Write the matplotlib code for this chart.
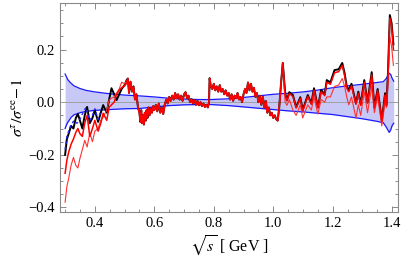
import numpy as np
import matplotlib
matplotlib.use("Agg")
import matplotlib.pyplot as plt
from matplotlib.ticker import MultipleLocator, FixedLocator

plt.rcParams['font.family'] = ['Liberation Serif', 'DejaVu Serif']
plt.rcParams['mathtext.fontset'] = 'stix'

# ---------------- data ----------------
# error band
band_x = [0.300, 0.305, 0.310, 0.320, 0.330, 0.350, 0.370, 0.400, 0.450, 0.500, 0.550,
          0.600, 0.650, 0.700, 0.750, 0.790, 0.850, 0.900, 0.950, 1.000, 1.050, 1.100,
          1.150, 1.200, 1.250, 1.300, 1.350, 1.370, 1.380, 1.390, 1.395, 1.400, 1.405]
band_hi = [0.107, 0.095, 0.084, 0.072, 0.062, 0.052, 0.045, 0.039, 0.032, 0.027, 0.024,
           0.020, 0.015, 0.012, 0.010, 0.010, 0.013, 0.018, 0.024, 0.030, 0.034, 0.039,
           0.046, 0.055, 0.062, 0.068, 0.075, 0.078, 0.090, 0.110, 0.105, 0.090, 0.080]
band_lo = [-0.100, -0.085, -0.075, -0.058, -0.048, -0.040, -0.035, -0.031, -0.028, -0.025, -0.024,
           -0.018, -0.013, -0.010, -0.009, -0.009, -0.013, -0.018, -0.023, -0.028, -0.033, -0.037,
           -0.042, -0.047, -0.055, -0.063, -0.073, -0.078, -0.095, -0.115, -0.105, -0.088, -0.080]

# left part (0.30 - 0.51)
x_left = [0.300, 0.306, 0.312, 0.320, 0.328, 0.336, 0.343, 0.350, 0.358, 0.366, 0.374,
          0.383, 0.392, 0.400, 0.411, 0.420, 0.428, 0.440, 0.448, 0.456, 0.465, 0.473,
          0.482, 0.490, 0.500, 0.507]
black_left = [-0.200, -0.140, -0.120, -0.090, -0.100, -0.060, -0.045, -0.070, -0.100, -0.050, -0.018,
              -0.080, -0.060, -0.030, -0.075, -0.040, -0.011, -0.040, 0.010, 0.053, 0.030, 0.008,
              0.030, 0.050, 0.065, 0.084]
red_left = [-0.270, -0.220, -0.190, -0.160, -0.140, -0.115, -0.100, -0.120, -0.130, -0.080, -0.050,
            -0.130, -0.100, -0.069, -0.110, -0.080, -0.042, -0.069, -0.019, -0.010, 0.000, 0.030,
            0.046, 0.055, 0.062, 0.072]
light_left = [-0.380, -0.320, -0.290, -0.240, -0.210, -0.240, -0.250, -0.213, -0.180, -0.145, -0.170,
              -0.118, -0.150, -0.110, -0.100, -0.069, -0.057, -0.030, 0.008, 0.015, 0.020, 0.034,
              0.050, 0.076, 0.070, 0.080]

# middle part (0.51 - 1.035), curves coincide
x_mid = [0.511, 0.515, 0.520, 0.525, 0.530, 0.535, 0.540, 0.545, 0.550, 0.553, 0.556, 0.559,
         0.562, 0.565, 0.568, 0.571, 0.574, 0.577, 0.580, 0.584, 0.588, 0.592, 0.596, 0.600,
         0.605, 0.610, 0.615, 0.620, 0.625, 0.630, 0.635, 0.640, 0.645, 0.650, 0.655, 0.660,
         0.665, 0.670, 0.675, 0.680, 0.685, 0.690, 0.695, 0.700, 0.705, 0.710, 0.715, 0.720,
         0.725, 0.730, 0.735, 0.740, 0.745, 0.750, 0.755, 0.760, 0.765, 0.770, 0.775, 0.780,
         0.784, 0.786, 0.790, 0.795, 0.800, 0.805, 0.810, 0.815, 0.820, 0.825, 0.830, 0.835,
         0.840, 0.845, 0.850, 0.855, 0.860, 0.865, 0.870, 0.875, 0.880, 0.885, 0.890, 0.895,
         0.900, 0.905, 0.910, 0.915, 0.920, 0.925, 0.930, 0.935, 0.940, 0.945, 0.950, 0.955,
         0.960, 0.965, 0.970, 0.975, 0.980, 0.985, 0.990, 0.995, 1.000, 1.005, 1.010, 1.015,
         1.020, 1.026, 1.032]
y_mid = [0.090, 0.035, 0.078, 0.040, 0.060, 0.010, 0.030, -0.020, -0.040, -0.075, -0.030, -0.080,
         -0.050, -0.085, -0.040, -0.070, -0.030, -0.060, -0.020, -0.050, -0.025, -0.040, -0.015, -0.030,
         -0.010, -0.035, -0.005, -0.040, -0.020, -0.045, -0.010, 0.010, -0.005, 0.020, 0.005, 0.025,
         0.010, 0.035, 0.015, 0.030, 0.010, 0.025, 0.005, 0.030, 0.038, 0.015, 0.025, 0.000,
         0.012, -0.005, 0.008, -0.010, 0.005, -0.012, 0.000, -0.015, -0.005, -0.018, -0.010, -0.020,
         0.000, 0.091, 0.060, 0.050, 0.070, 0.045, 0.060, 0.040, 0.065, 0.040, 0.050, 0.030,
         0.045, 0.025, 0.035, 0.010, 0.030, 0.005, 0.025, 0.015, 0.035, 0.010, 0.020, 0.000,
         0.030, 0.050, 0.035, 0.075, 0.045, 0.070, 0.040, 0.055, 0.020, 0.035, 0.000, 0.025,
         -0.010, 0.020, -0.020, 0.005, -0.040, -0.020, -0.050, -0.040, -0.060, -0.050, -0.065, -0.070,
         -0.020, 0.070, 0.149]
light_mid_spike = 0.140

# right part (1.04 - 1.405)
x_right = [1.040, 1.046, 1.054, 1.066, 1.077, 1.091, 1.099, 1.116, 1.128, 1.137, 1.150, 1.161,
           1.173, 1.180, 1.192, 1.206, 1.220, 1.232, 1.240, 1.247, 1.254, 1.263, 1.278, 1.286,
           1.294, 1.306, 1.317, 1.331, 1.340, 1.351, 1.365, 1.376, 1.381, 1.386, 1.392, 1.398, 1.404]
black_right = [0.034, 0.008, 0.038, 0.027, -0.019, 0.019, -0.030, 0.027, -0.004, 0.053, -0.019, 0.046,
               0.030, 0.084, 0.075, 0.122, 0.125, 0.149, 0.110, 0.060, 0.046, 0.070, -0.004, 0.040,
               -0.008, 0.084, 0.000, 0.114, -0.019, 0.050, -0.069, 0.034, -0.010, 0.120, 0.331, 0.300, 0.220]
red_right = [0.030, 0.005, 0.033, 0.022, -0.022, 0.015, -0.033, 0.022, -0.008, 0.046, -0.022, 0.040,
             0.025, 0.076, 0.068, 0.112, 0.116, 0.140, 0.100, 0.054, 0.040, 0.062, -0.008, 0.034,
             -0.012, 0.076, -0.004, 0.104, -0.022, 0.044, -0.072, 0.028, -0.014, 0.110, 0.320, 0.290, 0.200]
light_right = [0.000, -0.012, 0.010, -0.030, -0.050, -0.010, -0.060, -0.010, -0.030, 0.020, -0.045, 0.010,
               0.000, 0.020, 0.020, 0.060, 0.065, 0.090, 0.060, 0.020, -0.010, 0.020, -0.060, -0.010,
               -0.050, 0.040, -0.040, 0.060, -0.040, 0.020, -0.090, 0.000, -0.020, 0.080, 0.250, 0.210, 0.140]

# blue dashed curve at the start
blue_x = [0.300, 0.306, 0.312, 0.320, 0.330, 0.340, 0.350, 0.360, 0.370, 0.383, 0.392, 0.400, 0.411, 0.420]
blue_y = [-0.180, -0.130, -0.110, -0.085, -0.070, -0.080, -0.065, -0.040, -0.020, -0.070, -0.050, -0.025, -0.065, -0.035]

x_ticks = [0.4, 0.6, 0.8, 1.0, 1.2, 1.4]
x_ticklabels = ['0.4', '0.6', '0.8', '1.0', '1.2', '1.4']
y_ticks = [-0.4, -0.2, 0.0, 0.2]
y_ticklabels = ['\u22120.4', '\u22120.2', '0.0', '0.2']

# ---------------- figure ----------------
fig = plt.figure(figsize=(4.03, 2.71), dpi=100)
ax = fig.add_axes([0.149, 0.218, 0.839, 0.771])

ax.fill_between(band_x, band_lo, band_hi, color='#c8c8f6', lw=0, zorder=1)
ax.plot(band_x, band_hi, color='#1a1aff', lw=0.9, zorder=2)
ax.plot(band_x, band_lo, color='#1a1aff', lw=0.9, zorder=2)
ax.axhline(0.0, color='#a0a0a0', lw=0.7, zorder=2)

xs = x_left + x_mid + x_right
black = black_left + y_mid + black_right
red = red_left + y_mid + red_right
light = light_left + y_mid[:-1] + [light_mid_spike] + light_right

ax.plot(xs, black, color='black', lw=1.4, zorder=3)
ax.plot(blue_x, blue_y, color='#2a2aff', lw=1.0, ls=(0, (2, 2)), zorder=4)
ax.plot(xs, light, color='#ff3030', lw=0.8, zorder=4)
ax.plot(xs, red, color='#ff0000', lw=1.1, zorder=5)

ax.set_xlim(0.283, 1.42)
ax.set_ylim(-0.417, 0.377)

ax.xaxis.set_major_locator(FixedLocator(x_ticks))
ax.set_xticklabels(x_ticklabels)
ax.yaxis.set_major_locator(FixedLocator(y_ticks))
ax.set_yticklabels(y_ticklabels)
ax.xaxis.set_minor_locator(MultipleLocator(0.05))
ax.yaxis.set_minor_locator(MultipleLocator(0.05))

for side in ax.spines.values():
    side.set_color('#8a8a8a')
    side.set_linewidth(0.8)
ax.tick_params(which='both', direction='in', top=True, right=True, color='#8a8a8a',
               labelsize=10.5, width=0.7)
ax.tick_params(which='major', length=4)
ax.tick_params(which='minor', length=2)

ax.set_xlabel(r'$\sqrt{s}$ [ GeV ]', fontsize=11.5, labelpad=3)
ax.set_ylabel(r'$\sigma^{\tau}/\sigma^{\mathrm{ee}}\!-\!1$', fontsize=11.5, labelpad=2)

fig.savefig('out.png', dpi=100)
